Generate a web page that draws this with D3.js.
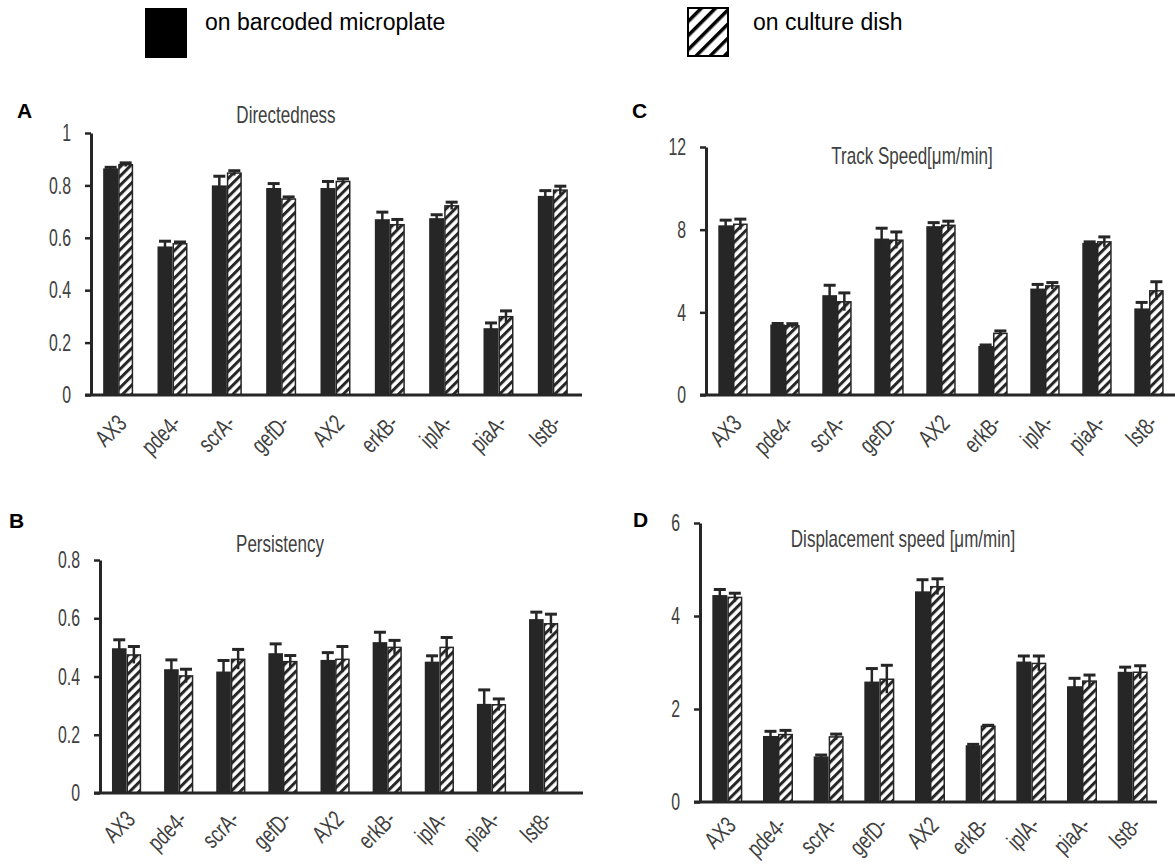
<!DOCTYPE html>
<html>
<head>
<meta charset="utf-8">
<script src="https://cdn.jsdelivr.net/npm/d3@7"></script>
<style>
  body { margin: 0; background: #fff; }
  svg { display: block; }
  .tick text, .lbl, .ttl { font-family: "Liberation Sans", Arial, sans-serif; fill: #404040; }
</style>
</head>
<body>
<svg id="chart" width="1175" height="867"></svg>
<script>
// strains on the x axis
var strains = ["AX3", "pde4-", "scrA-", "gefD-", "AX2", "erkB-", "iplA-", "piaA-", "lst8-"];
var seriesNames = ["on barcoded microplate", "on culture dish"];

// A - Directedness
var dirPlate    = [0.865, 0.567, 0.80, 0.79, 0.79, 0.671, 0.675, 0.255, 0.76];
var dirPlateErr = [0.004, 0.02, 0.035, 0.017, 0.025, 0.027, 0.013, 0.02, 0.02];
var dirDish     = [0.879, 0.577, 0.847, 0.748, 0.815, 0.65, 0.722, 0.299, 0.782];
var dirDishErr  = [0.007, 0.007, 0.009, 0.008, 0.01, 0.02, 0.014, 0.022, 0.015];

// B - Persistency
var perPlate    = [0.497, 0.425, 0.417, 0.48, 0.457, 0.518, 0.451, 0.306, 0.597];
var perPlateErr = [0.029, 0.032, 0.038, 0.032, 0.025, 0.034, 0.02, 0.048, 0.024];
var perDish     = [0.474, 0.402, 0.459, 0.451, 0.459, 0.50, 0.50, 0.303, 0.581];
var perDishErr  = [0.029, 0.023, 0.034, 0.021, 0.044, 0.024, 0.034, 0.02, 0.033];

// C - Track speed
var trkPlate    = [8.21, 3.41, 4.83, 7.57, 8.17, 2.37, 5.15, 7.36, 4.19];
var trkPlateErr = [0.25, 0.05, 0.48, 0.5, 0.17, 0.05, 0.2, 0.05, 0.29];
var trkDish     = [8.26, 3.35, 4.51, 7.49, 8.21, 2.98, 5.28, 7.41, 5.04];
var trkDishErr  = [0.25, 0.1, 0.43, 0.4, 0.2, 0.12, 0.16, 0.24, 0.44];

// D - Displacement speed
var dspPlate    = [4.45, 1.42, 0.98, 2.59, 4.53, 1.22, 3.02, 2.49, 2.8];
var dspPlateErr = [0.12, 0.1, 0.03, 0.28, 0.25, 0.02, 0.12, 0.17, 0.1];
var dspDish     = [4.4, 1.45, 1.4, 2.64, 4.63, 1.63, 2.98, 2.6, 2.79];
var dspDishErr  = [0.09, 0.09, 0.06, 0.3, 0.17, 0.02, 0.16, 0.13, 0.14];

var dirTicks = [0, 0.2, 0.4, 0.6, 0.8, 1];
var perTicks = [0, 0.2, 0.4, 0.6, 0.8];
var trkTicks = [0, 4, 8, 12];
var dspTicks = [0, 2, 4, 6];

var ink = "#262626";
// the figure uses a very condensed face, so text gets squeezed sideways
var narrow = 0.66, narrowTitle = 0.74, narrowLbl = 0.72;
var svg = d3.select("#chart");
var defs = svg.append("defs");

// hatch for bars
var hp = defs.append("pattern").attr("id", "hatch")
    .attr("patternUnits", "userSpaceOnUse")
    .attr("width", 6.5).attr("height", 6.5)
    .attr("patternTransform", "rotate(45)");
hp.append("rect").attr("width", 6.5).attr("height", 6.5).attr("fill", "#fff");
hp.append("rect").attr("width", 3).attr("height", 6.5).attr("fill", ink);

// bigger hatch for the legend swatch
var hl = defs.append("pattern").attr("id", "hatchBig")
    .attr("patternUnits", "userSpaceOnUse")
    .attr("width", 10).attr("height", 10)
    .attr("patternTransform", "rotate(45)");
hl.append("rect").attr("width", 10).attr("height", 10).attr("fill", "#fff");
hl.append("rect").attr("width", 3.5).attr("height", 10).attr("fill", "#000");

// legend
svg.append("rect").attr("x", 145).attr("y", 8).attr("width", 42).attr("height", 50).attr("fill", "#000");
svg.append("text").attr("x", 205).attr("y", 30).text(seriesNames[0])
    .style("font-family", "Liberation Sans, Arial, sans-serif").style("font-size", "23px");
svg.append("rect").attr("x", 688).attr("y", 8).attr("width", 40).attr("height", 48)
    .attr("fill", "url(#hatchBig)").attr("stroke", "#000").attr("stroke-width", 2);
svg.append("text").attr("x", 753).attr("y", 30).text(seriesNames[1])
    .style("font-family", "Liberation Sans, Arial, sans-serif").style("font-size", "23px");

function drawPanel(p) {
  var g = svg.append("g");
  var x = d3.scaleBand().domain(strains).range([p.x0, p.x1]);
  var y = d3.scaleLinear().domain([0, p.max]).range([p.zero, p.top]);
  var bw = p.bw;

  // panel letter
  g.append("text").attr("x", p.lx).attr("y", p.ly).text(p.letter)
      .style("font-family", "Liberation Sans, Arial, sans-serif")
      .style("font-weight", "bold").style("font-size", "21px").attr("fill", "#000");

  // title
  g.append("text").attr("class", "ttl")
      .attr("transform", "translate(" + p.tx + "," + p.ty + ") scale(" + narrowTitle + ",1)")
      .attr("text-anchor", "middle").style("font-size", "23px").text(p.title);

  // y axis
  var ya = g.append("g").attr("transform", "translate(" + p.ax + ",0)")
      .call(d3.axisLeft(y).tickValues(p.ticks).tickSize(6).tickSizeOuter(0)
        .tickPadding(14).tickFormat(d3.format("~g")));
  ya.select(".domain").attr("stroke", ink).attr("stroke-width", 3);
  ya.selectAll(".tick line").attr("stroke", ink).attr("stroke-width", 2.5);
  ya.selectAll(".tick text").style("font-size", "24px")
      .attr("x", -20 / narrow)
      .attr("transform", "scale(" + narrow + ",1)");

  // bars
  var cx = function(d) { return x(d) + x.bandwidth() / 2; };
  g.selectAll(".plate").data(strains).enter().append("rect")
      .attr("x", function(d) { return cx(d) - bw; })
      .attr("y", function(d, i) { return y(p.a[i]); })
      .attr("width", bw)
      .attr("height", function(d, i) { return y(0) - y(p.a[i]); })
      .attr("fill", ink);
  g.selectAll(".dish").data(strains).enter().append("rect")
      .attr("x", function(d) { return cx(d) + 0.75; })
      .attr("y", function(d, i) { return y(p.b[i]); })
      .attr("width", bw - 1.5)
      .attr("height", function(d, i) { return y(0) - y(p.b[i]); })
      .attr("fill", "url(#hatch)").attr("stroke", ink).attr("stroke-width", 1.5);

  // error bars
  function err(vals, errs, off) {
    strains.forEach(function(s, i) {
      var ex = cx(s) + off;
      g.append("line").attr("x1", ex).attr("x2", ex)
          .attr("y1", y(vals[i] - errs[i])).attr("y2", y(vals[i] + errs[i]))
          .attr("stroke", ink).attr("stroke-width", 2.5);
      g.append("line").attr("x1", ex - 6).attr("x2", ex + 6)
          .attr("y1", y(vals[i] + errs[i])).attr("y2", y(vals[i] + errs[i]))
          .attr("stroke", ink).attr("stroke-width", 3);
    });
  }
  err(p.a, p.ae, -bw / 2);
  err(p.b, p.be, bw / 2);

  // x axis line
  g.append("line").attr("x1", p.ax - 6).attr("x2", p.xEnd)
      .attr("y1", p.zero).attr("y2", p.zero)
      .attr("stroke", ink).attr("stroke-width", 3);

  // rotated strain labels
  g.selectAll(".lbl").data(strains).enter().append("text")
      .attr("class", "lbl")
      .attr("transform", function(d) {
        return "translate(" + (cx(d) + 10) + "," + (p.zero + p.ld) + ") rotate(-45) scale(" + narrowLbl + ",1)";
      })
      .attr("text-anchor", "end")
      .style("font-size", "24px")
      .text(function(d) { return d; });
}

drawPanel({ letter: "A", lx: 17, ly: 118, title: "Directedness", tx: 286, ty: 123, ld: 30,
  ax: 91, x0: 91, x1: 580, xEnd: 582, top: 133, zero: 395, max: 1, ticks: dirTicks, bw: 15,
  a: dirPlate, ae: dirPlateErr, b: dirDish, be: dirDishErr });

drawPanel({ letter: "C", lx: 632, ly: 118, title: "Track Speed[\u03bcm/min]", tx: 912, ty: 164, ld: 30,
  ax: 706, x0: 707, x1: 1175, xEnd: 1175, top: 147, zero: 395, max: 12, ticks: trkTicks, bw: 14.7,
  a: trkPlate, ae: trkPlateErr, b: trkDish, be: trkDishErr });

drawPanel({ letter: "B", lx: 9, ly: 528, title: "Persistency", tx: 280, ty: 552, ld: 28,
  ax: 100, x0: 100.5, x1: 569.7, xEnd: 583, top: 560, zero: 793, max: 0.8, ticks: perTicks, bw: 14.6,
  a: perPlate, ae: perPlateErr, b: perDish, be: perDishErr });

drawPanel({ letter: "D", lx: 633, ly: 527, title: "Displacement speed [\u03bcm/min]", tx: 903, ty: 547, ld: 25,
  ax: 700, x0: 702, x1: 1158, xEnd: 1157, top: 523, zero: 802, max: 6, ticks: dspTicks, bw: 15,
  a: dspPlate, ae: dspPlateErr, b: dspDish, be: dspDishErr });
</script>
</body>
</html>
